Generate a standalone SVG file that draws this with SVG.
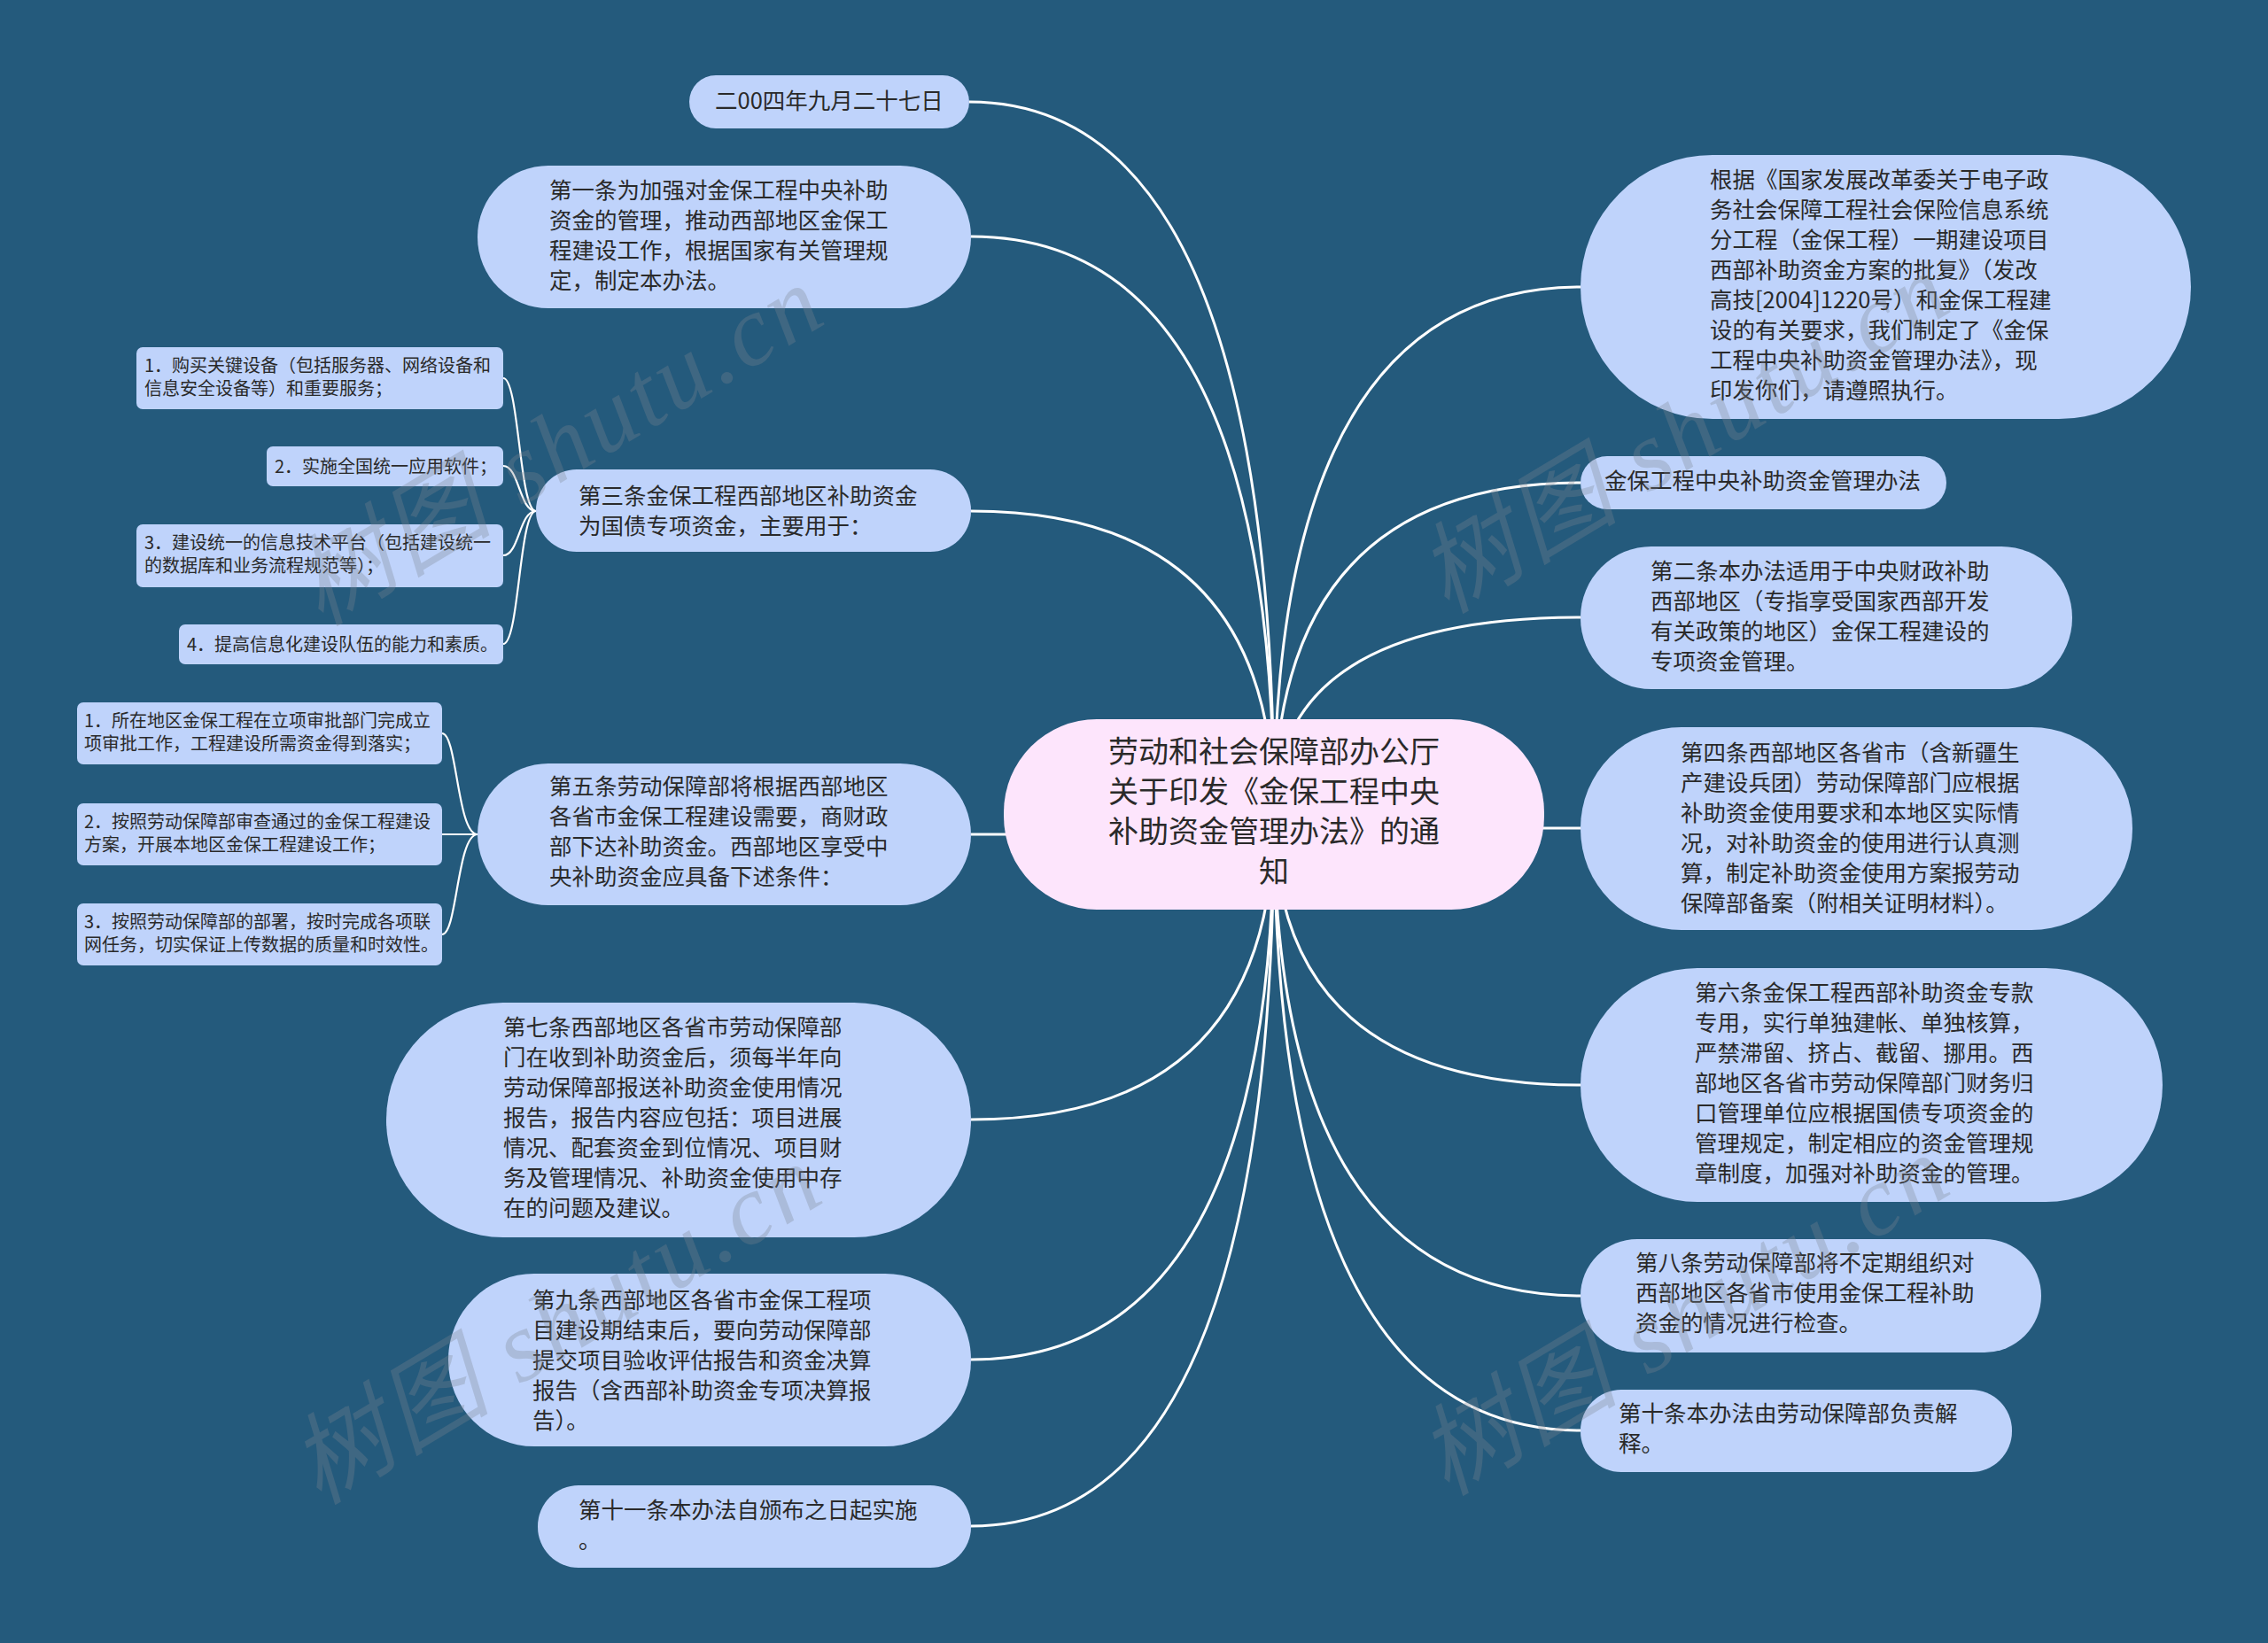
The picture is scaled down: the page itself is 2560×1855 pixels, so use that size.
<svg xmlns="http://www.w3.org/2000/svg" width="2560" height="1855" viewBox="0 0 2560 1855">
<style>
.bg{fill:#245a7c}
.n{fill:#bfd3fb}
.root{fill:#fde5fc}
.sub{fill:#bfd3fb}
.t{font-family:"Noto Sans CJK SC","Noto Sans",sans-serif;font-size:25.5px;fill:#2a2a2a}
.ts{font-family:"Noto Sans CJK SC","Noto Sans",sans-serif;font-size:20px;fill:#2a2a2a}
.tr{font-family:"Noto Sans CJK SC","Noto Sans",sans-serif;font-size:34px;fill:#2a2a2a;text-anchor:middle}
.c{fill:none;stroke:#ffffff;stroke-width:3}
.cs{fill:none;stroke:#ffffff;stroke-width:2.2}
.wm{font-family:"Liberation Serif","Noto Sans CJK SC",serif;font-style:italic;font-size:112px;letter-spacing:4px;fill:#7d8590;opacity:0.3}
</style>
<rect class="bg" x="0" y="0" width="2560" height="1855"/>
<g id="connectors">
<path class="c" d="M1438,920 Q1438,115 1094,115"/>
<path class="c" d="M1438,920 Q1438,267 1096,267"/>
<path class="c" d="M1438,920 Q1438,577 1096,577"/>
<path class="c" d="M1438,920 Q1438,942 1096,942"/>
<path class="c" d="M1438,920 Q1438,1264 1096,1264"/>
<path class="c" d="M1438,920 Q1438,1535 1096,1535"/>
<path class="c" d="M1438,920 Q1438,1723 1096,1723"/>
<path class="c" d="M1438,920 Q1438,324 1784,324"/>
<path class="c" d="M1438,920 Q1438,545 1784,545"/>
<path class="c" d="M1438,920 Q1438,697 1784,697"/>
<path class="c" d="M1438,920 Q1438,935 1784,935"/>
<path class="c" d="M1438,920 Q1438,1225 1784,1225"/>
<path class="c" d="M1438,920 Q1438,1463 1784,1463"/>
<path class="c" d="M1438,920 Q1438,1615 1784,1615"/>
<path class="cs" d="M605,577 C586,577 586,427 568,427"/>
<path class="cs" d="M605,577 C586,577 586,526 568,526"/>
<path class="cs" d="M605,577 C586,577 586,627 568,627"/>
<path class="cs" d="M605,577 C586,577 586,727 568,727"/>
<path class="cs" d="M539,942 C516,942 516,828 499,828"/>
<path class="cs" d="M539,942 C516,942 516,942 499,942"/>
<path class="cs" d="M539,942 C516,942 516,1055 499,1055"/>
</g>
<g id="root">
<rect class="root" x="1133" y="812" width="610" height="215" rx="105" ry="105"/>
<text class="tr"><tspan x="1438" y="861">劳动和社会保障部办公厅</tspan><tspan x="1438" y="906">关于印发《金保工程中央</tspan><tspan x="1438" y="951">补助资金管理办法》的通</tspan><tspan x="1438" y="996">知</tspan></text>
</g>
<g id="n-date">
<rect class="n" x="778" y="85" width="316" height="60" rx="30"/>
<text class="t" x="807" y="123">二00四年九月二十七日</text>
</g>
<g id="n-art1">
<rect class="n" x="539" y="187" width="557" height="161" rx="80"/>
<text class="t"><tspan x="620" y="224">第一条为加强对金保工程中央补助</tspan><tspan x="620" y="258">资金的管理，推动西部地区金保工</tspan><tspan x="620" y="292">程建设工作，根据国家有关管理规</tspan><tspan x="620" y="326">定，制定本办法。</tspan></text>
</g>
<g id="n-art3">
<rect class="n" x="605" y="530" width="491" height="93" rx="46"/>
<text class="t"><tspan x="653" y="569">第三条金保工程西部地区补助资金</tspan><tspan x="653" y="603">为国债专项资金，主要用于：</tspan></text>
</g>
<g id="n-art3-1">
<rect class="sub" x="154" y="392" width="414" height="70" rx="7"/>
<text class="ts"><tspan x="163" y="420">1．购买关键设备（包括服务器、网络设备和</tspan><tspan x="163" y="446">信息安全设备等）和重要服务；</tspan></text>
</g>
<g id="n-art3-2">
<rect class="sub" x="301" y="504" width="267" height="45" rx="7"/>
<text class="ts" x="310" y="534">2．实施全国统一应用软件；</text>
</g>
<g id="n-art3-3">
<rect class="sub" x="154" y="592" width="414" height="71" rx="7"/>
<text class="ts"><tspan x="163" y="620">3．建设统一的信息技术平台（包括建设统一</tspan><tspan x="163" y="646">的数据库和业务流程规范等）；</tspan></text>
</g>
<g id="n-art3-4">
<rect class="sub" x="202" y="705" width="366" height="45" rx="7"/>
<text class="ts" x="211" y="735">4．提高信息化建设队伍的能力和素质。</text>
</g>
<g id="n-art5">
<rect class="n" x="539" y="862" width="557" height="160" rx="80"/>
<text class="t"><tspan x="620" y="897">第五条劳动保障部将根据西部地区</tspan><tspan x="620" y="931">各省市金保工程建设需要，商财政</tspan><tspan x="620" y="965">部下达补助资金。西部地区享受中</tspan><tspan x="620" y="999">央补助资金应具备下述条件：</tspan></text>
</g>
<g id="n-art5-1">
<rect class="sub" x="87" y="793" width="412" height="70" rx="7"/>
<text class="ts"><tspan x="95" y="821">1．所在地区金保工程在立项审批部门完成立</tspan><tspan x="95" y="847">项审批工作，工程建设所需资金得到落实；</tspan></text>
</g>
<g id="n-art5-2">
<rect class="sub" x="87" y="907" width="412" height="70" rx="7"/>
<text class="ts"><tspan x="95" y="935">2．按照劳动保障部审查通过的金保工程建设</tspan><tspan x="95" y="961">方案，开展本地区金保工程建设工作；</tspan></text>
</g>
<g id="n-art5-3">
<rect class="sub" x="87" y="1020" width="412" height="70" rx="7"/>
<text class="ts"><tspan x="95" y="1048">3．按照劳动保障部的部署，按时完成各项联</tspan><tspan x="95" y="1074">网任务，切实保证上传数据的质量和时效性。</tspan></text>
</g>
<g id="n-art7">
<rect class="n" x="436" y="1132" width="660" height="265" rx="132"/>
<text class="t"><tspan x="568" y="1169">第七条西部地区各省市劳动保障部</tspan><tspan x="568" y="1203">门在收到补助资金后，须每半年向</tspan><tspan x="568" y="1237">劳动保障部报送补助资金使用情况</tspan><tspan x="568" y="1271">报告，报告内容应包括：项目进展</tspan><tspan x="568" y="1305">情况、配套资金到位情况、项目财</tspan><tspan x="568" y="1339">务及管理情况、补助资金使用中存</tspan><tspan x="568" y="1373">在的问题及建议。</tspan></text>
</g>
<g id="n-art9">
<rect class="n" x="506" y="1438" width="590" height="195" rx="97"/>
<text class="t"><tspan x="601" y="1477">第九条西部地区各省市金保工程项</tspan><tspan x="601" y="1511">目建设期结束后，要向劳动保障部</tspan><tspan x="601" y="1545">提交项目验收评估报告和资金决算</tspan><tspan x="601" y="1579">报告（含西部补助资金专项决算报</tspan><tspan x="601" y="1613">告）。</tspan></text>
</g>
<g id="n-art11">
<rect class="n" x="607" y="1677" width="489" height="93" rx="46"/>
<text class="t"><tspan x="653" y="1714">第十一条本办法自颁布之日起实施</tspan><tspan x="653" y="1748">。</tspan></text>
</g>
<g id="n-basis">
<rect class="n" x="1784" y="175" width="689" height="298" rx="149"/>
<text class="t"><tspan x="1930" y="212">根据《国家发展改革委关于电子政</tspan><tspan x="1930" y="246">务社会保障工程社会保险信息系统</tspan><tspan x="1930" y="280">分工程（金保工程）一期建设项目</tspan><tspan x="1930" y="314">西部补助资金方案的批复》（发改</tspan><tspan x="1930" y="348">高技[2004]1220号）和金保工程建</tspan><tspan x="1930" y="382">设的有关要求，我们制定了《金保</tspan><tspan x="1930" y="416">工程中央补助资金管理办法》，现</tspan><tspan x="1930" y="450">印发你们，请遵照执行。</tspan></text>
</g>
<g id="n-title">
<rect class="n" x="1784" y="515" width="413" height="60" rx="30"/>
<text class="t" x="1811" y="552">金保工程中央补助资金管理办法</text>
</g>
<g id="n-art2">
<rect class="n" x="1784" y="617" width="555" height="161" rx="80"/>
<text class="t"><tspan x="1863" y="654">第二条本办法适用于中央财政补助</tspan><tspan x="1863" y="688">西部地区（专指享受国家西部开发</tspan><tspan x="1863" y="722">有关政策的地区）金保工程建设的</tspan><tspan x="1863" y="756">专项资金管理。</tspan></text>
</g>
<g id="n-art4">
<rect class="n" x="1784" y="821" width="623" height="229" rx="114"/>
<text class="t"><tspan x="1897" y="859">第四条西部地区各省市（含新疆生</tspan><tspan x="1897" y="893">产建设兵团）劳动保障部门应根据</tspan><tspan x="1897" y="927">补助资金使用要求和本地区实际情</tspan><tspan x="1897" y="961">况，对补助资金的使用进行认真测</tspan><tspan x="1897" y="995">算，制定补助资金使用方案报劳动</tspan><tspan x="1897" y="1029">保障部备案（附相关证明材料）。</tspan></text>
</g>
<g id="n-art6">
<rect class="n" x="1784" y="1093" width="657" height="264" rx="132"/>
<text class="t"><tspan x="1913" y="1130">第六条金保工程西部补助资金专款</tspan><tspan x="1913" y="1164">专用，实行单独建帐、单独核算，</tspan><tspan x="1913" y="1198">严禁滞留、挤占、截留、挪用。西</tspan><tspan x="1913" y="1232">部地区各省市劳动保障部门财务归</tspan><tspan x="1913" y="1266">口管理单位应根据国债专项资金的</tspan><tspan x="1913" y="1300">管理规定，制定相应的资金管理规</tspan><tspan x="1913" y="1334">章制度，加强对补助资金的管理。</tspan></text>
</g>
<g id="n-art8">
<rect class="n" x="1784" y="1399" width="520" height="128" rx="64"/>
<text class="t"><tspan x="1846" y="1435">第八条劳动保障部将不定期组织对</tspan><tspan x="1846" y="1469">西部地区各省市使用金保工程补助</tspan><tspan x="1846" y="1503">资金的情况进行检查。</tspan></text>
</g>
<g id="n-art10">
<rect class="n" x="1784" y="1569" width="487" height="93" rx="46"/>
<text class="t"><tspan x="1827" y="1605">第十条本办法由劳动保障部负责解</tspan><tspan x="1827" y="1639">释。</tspan></text>
</g>
<g id="watermark">
<text class="wm" transform="translate(362,708) rotate(-31)">树图 shutu.cn</text>
<text class="wm" transform="translate(360,1700) rotate(-31)">树图 shutu.cn</text>
<text class="wm" transform="translate(1633,694) rotate(-31)">树图 shutu.cn</text>
<text class="wm" transform="translate(1633,1690) rotate(-31)">树图 shutu.cn</text>
</g>
</svg>
